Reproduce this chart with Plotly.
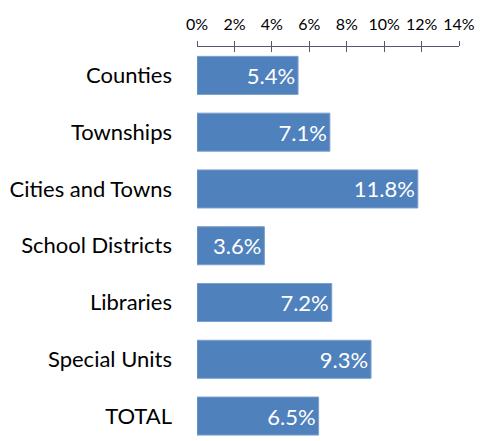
import plotly.graph_objects as go

# categories and values (percent)
categories = ["Counties", "Townships", "Cities and Towns", "School Districts",
              "Libraries", "Special Units", "TOTAL"]
values = [5.4, 7.1, 11.8, 3.6, 7.2, 9.3, 6.5]
tick_vals = [0, 2, 4, 6, 8, 10, 12, 14]
tick_text = ["0%", "2%", "4%", "6%", "8%", "10%", "12%", "14%"]

FONT = "Lato"
AXIS_COLOR = "#5a5470"

fig = go.Figure()
fig.add_trace(go.Bar(
    x=values, y=categories, orientation="h",
    marker=dict(color="#4f81bd", line=dict(color="#7c9fcd", width=1)),
    width=0.67,
    text=[f"{v:.1f}%" for v in values],
    textposition="inside", insidetextanchor="end",
    textfont=dict(family=FONT, size=22, color="white"),
    cliponaxis=False,
    xaxis="x", yaxis="y",
))

# dummy trace so the second (tick-only) axis shows up
fig.add_trace(go.Scatter(x=[0], y=[categories[0]], xaxis="x2", yaxis="y",
                         mode="markers", marker=dict(opacity=0),
                         showlegend=False, hoverinfo="skip"))

# page body has an 8px margin, so shift the plot area back by that much
fig.update_layout(
    width=483, height=441,
    margin=dict(l=189, r=32, t=39, b=0),
    paper_bgcolor="white", plot_bgcolor="white",
    showlegend=False,
    font=dict(family=FONT, color="black"),
    xaxis=dict(
        side="top", range=[0, 14], tickvals=tick_vals, ticktext=tick_text,
        tickfont=dict(size=16), showgrid=False, zeroline=False,
        showline=True, linecolor=AXIS_COLOR, linewidth=1,
        ticks="outside", ticklen=5, tickcolor=AXIS_COLOR, tickwidth=1,
        ticklabelstandoff=5, automargin=False,
    ),
    xaxis2=dict(
        overlaying="x", matches="x", side="top", range=[0, 14],
        tickvals=tick_vals, showticklabels=False, showgrid=False,
        zeroline=False, ticks="inside", ticklen=5, tickcolor=AXIS_COLOR,
        tickwidth=1, automargin=False,
    ),
    yaxis=dict(
        type="category", categoryorder="array", categoryarray=categories,
        range=[6.58, -0.5], showgrid=False, zeroline=False, showline=False,
        ticks="", tickfont=dict(size=22), ticklabelstandoff=24,
        automargin=False,
    ),
)

fig.write_html("out.html")
